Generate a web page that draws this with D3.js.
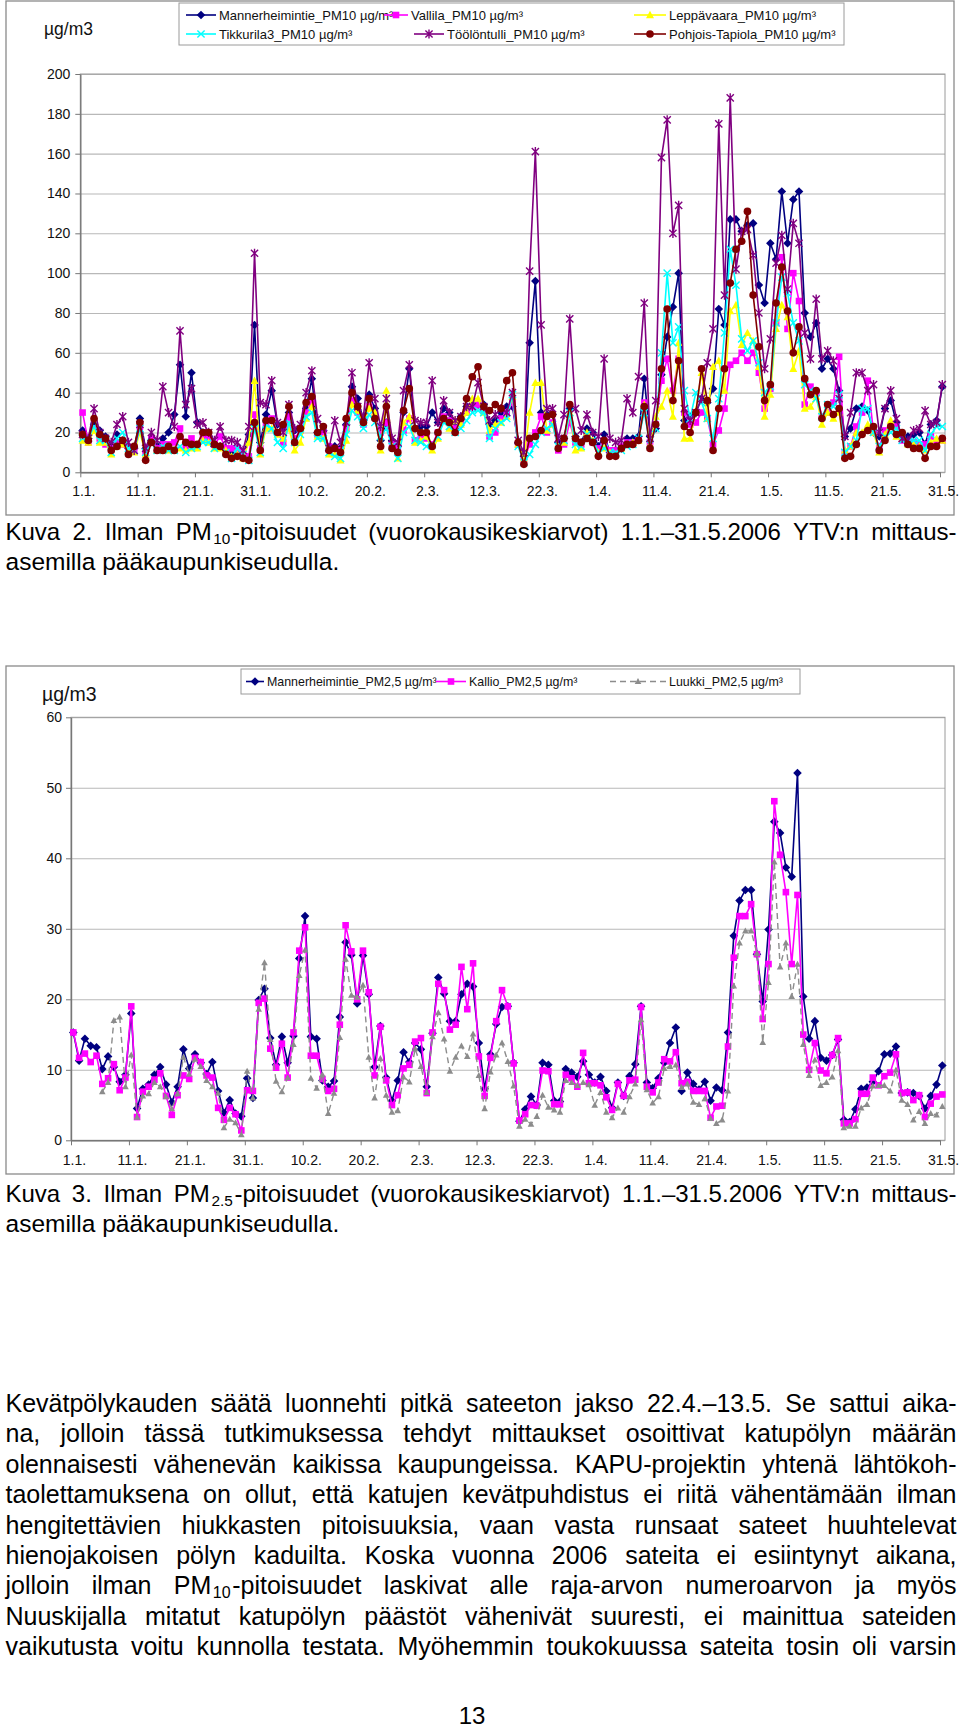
<!DOCTYPE html>
<html><head><meta charset="utf-8">
<script src="https://cdn.jsdelivr.net/npm/d3@7"></script>
<style>
body{margin:0;background:#fff;width:960px;height:1733px;position:relative;overflow:hidden;font-family:"Liberation Sans",Arial,Helvetica,sans-serif;color:#000}
svg{position:absolute;left:0;top:0}
</style></head><body>
<svg id="chart" width="960" height="1733"></svg>
<script>
// ---------------- DATA ----------------
const days = d3.range(151); // 1.1. ... 31.5.2006, day index
const tickDays = [0,10,20,30,40,50,60,70,80,90,100,110,120,130,140,150];
const tickLabels = ["1.1.","11.1.","21.1.","31.1.","10.2.","20.2.","2.3.","12.3.","22.3.","1.4.","11.4.","21.4.","1.5.","11.5.","21.5.","31.5."];
const pm10Ticks = [0,20,40,60,80,100,120,140,160,180,200];
const pm25Ticks = [0,10,20,30,40,50,60];

const pm10Names = ["Mannerheimintie_PM10 µg/m³","Vallila_PM10 µg/m³","Leppävaara_PM10 µg/m³","Tikkurila3_PM10 µg/m³","Töölöntulli_PM10 µg/m³","Pohjois-Tapiola_PM10 µg/m³"];
const pm25Names = ["Mannerheimintie_PM2,5 µg/m³","Kallio_PM2,5 µg/m³","Luukki_PM2,5 µg/m³"];

const mannerPM10 = [
21,17,24,21,18,13,19,16,12,12,
27,12,16,13,17,20,29,54,28,50,
25,20,18,13,13,12,10,12,8,19,
74,15,29,41,24,22,30,21,22,32,
47,20,21,11,13,12,24,43,37,26,
39,32,16,25,16,13,30,52,22,23,
23,30,25,32,30,22,28,33,34,34,
34,24,26,30,33,33,15,8,65,96,
30,29,29,15,17,32,18,15,22,20,
13,19,10,11,12,17,17,18,47,18,
22,49,68,83,100,26,28,30,37,35,
42,82,74,127,127,121,124,125,94,85,
115,107,141,115,137,141,80,68,75,52,
57,52,41,18,22,32,33,31,20,18,
32,36,25,17,18,19,20,14,24,26,43];
const vallilaPM10 = [
30,15,22,17,14,12,15,14,10,11,
23,10,17,12,14,14,15,22,13,17,
14,18,18,14,18,12,12,12,10,8,
29,12,25,27,20,15,28,17,21,30,
35,19,20,13,12,11,22,36,30,24,
33,28,20,25,14,12,21,27,16,17,
17,14,20,28,26,22,26,30,33,34,
31,18,20,27,30,35,14,6,14,20,
28,20,25,11,14,25,15,14,18,15,
12,16,11,11,13,15,15,16,35,15,
24,46,57,41,57,30,24,25,30,27,
14,21,32,54,56,60,56,60,50,32,
42,75,108,72,100,86,34,43,40,28,
30,35,58,10,13,23,30,46,20,13,
21,23,23,16,15,15,14,14,18,15,16];
const leppavaaraPM10 = [
16,15,21,15,15,9,13,14,11,10,
20,9,15,11,12,11,11,12,11,12,
12,16,15,12,12,11,8,9,7,15,
46,9,22,22,19,17,22,11,15,27,
33,18,17,9,9,6,16,34,31,25,
32,30,11,41,13,7,25,28,15,16,
18,11,17,27,22,26,24,30,37,37,
30,21,24,25,28,38,14,7,30,45,
45,21,24,13,15,30,11,12,20,16,
10,12,10,9,12,14,15,16,34,14,
28,33,41,28,65,17,17,31,50,27,
53,56,41,81,84,64,70,66,53,28,
39,72,84,78,52,61,32,33,38,24,
30,27,30,11,13,20,20,24,20,10,
19,26,18,17,14,14,13,11,15,17,16];
const tikkurilaPM10 = [
17,17,23,16,16,10,17,20,12,11,
22,10,15,11,13,11,11,13,10,12,
13,15,15,12,13,10,7,12,9,6,
22,10,24,22,15,12,25,15,19,28,
30,17,17,10,8,7,19,31,28,22,
29,25,18,22,13,7,20,23,16,15,
13,14,18,25,23,20,22,26,30,31,
30,17,22,25,27,39,13,5,9,14,
20,22,24,13,16,30,14,13,19,16,
10,12,10,10,11,13,14,17,30,14,
22,60,100,65,73,41,27,40,35,27,
17,37,70,112,94,67,61,66,55,40,
43,75,98,90,75,66,44,41,37,28,
34,33,39,10,13,16,32,32,20,13,
18,20,22,16,15,16,16,11,19,23,23];
const toolontulliPM10 = [
19,17,32,20,17,15,24,28,15,11,
24,12,20,16,43,30,23,71,34,42,
24,25,20,16,23,16,16,15,11,23,
110,35,34,46,25,20,34,22,24,40,
51,27,22,12,26,15,25,50,33,28,
55,37,23,37,17,15,41,54,26,25,
25,46,25,36,30,26,28,33,33,45,
33,26,29,32,30,40,16,10,101,161,
74,32,32,17,29,77,32,21,29,20,
18,57,17,15,16,37,30,48,85,17,
36,158,177,120,134,32,26,30,37,55,
72,175,89,188,102,121,122,109,80,52,
67,105,119,92,125,115,70,57,87,57,
61,56,37,18,30,50,50,41,44,20,
32,41,27,17,16,21,22,31,24,25,44];
const tapiolaPM10 = [
19,16,27,19,17,11,13,16,9,13,
25,6,15,11,11,13,11,18,15,14,
14,20,20,14,13,9,7,8,7,6,
25,11,26,26,20,24,33,15,22,35,
38,20,23,11,12,10,27,40,33,25,
37,27,13,33,12,10,31,42,22,20,
20,13,20,27,25,20,27,37,48,53,
33,31,34,32,46,50,15,4,17,18,
21,28,29,12,17,34,17,15,17,15,
8,16,8,8,12,14,14,16,33,12,
24,52,82,36,56,23,20,30,52,36,
11,32,52,95,112,116,131,89,63,36,
44,85,103,81,60,73,47,39,41,27,
34,29,32,7,8,14,19,21,23,11,
16,23,19,20,14,12,12,7,13,13,17];

const mannerPM25 = [
15.3,11.3,14.4,13.4,13.2,10.1,11.9,10.4,8.3,9.3,
18.0,4.5,7.3,7.9,9.3,10.4,7.9,5.4,7.6,12.9,
10.2,12.2,11.0,9.4,11.1,7.0,3.9,5.7,3.8,3.4,
8.8,6.0,19.9,21.5,14.5,10.7,14.7,11.0,14.8,25.8,
31.8,14.7,14.4,8.5,7.6,8.4,17.5,28.1,26.3,19.4,
26.2,20.7,10.4,16.2,8.9,5.6,8.5,12.5,11.1,13.8,
12.9,7.6,15.2,23.1,20.8,16.9,16.9,20.7,22.2,21.8,
13.8,7.3,12.2,16.5,18.9,19.0,11.0,2.7,4.4,6.2,
5.0,11.0,10.7,5.6,5.5,10.1,9.6,9.0,11.2,9.3,
8.2,9.0,7.0,4.6,8.2,6.3,9.1,10.8,19.0,8.2,
7.4,8.8,11.0,13.8,16.0,7.0,9.6,8.0,7.2,8.3,
5.6,7.5,7.1,15.3,29.0,34.0,35.5,35.5,26.4,19.7,
29.9,45.2,43.6,38.7,37.4,52.1,20.4,14.4,16.9,11.7,
11.3,12.1,14.3,2.9,2.6,4.4,7.3,7.5,8.3,9.8,
12.2,12.3,13.3,6.7,6.8,6.7,6.3,4.5,6.3,7.9,10.6];
const kallioPM25 = [
15.3,11.7,12.3,11.1,12.0,8.0,8.8,10.8,7.1,8.9,
19.0,3.3,6.9,7.6,8.6,9.5,6.3,3.6,6.4,9.2,
8.7,11.7,11.1,9.2,8.9,4.6,2.9,4.6,3.7,1.4,
7.1,7.0,19.5,20.1,13.0,10.3,13.7,8.9,15.3,26.9,
30.2,12.0,12.0,8.7,7.0,7.3,16.4,30.5,26.8,20.0,
26.9,21.0,9.2,16.1,8.5,5.0,6.4,10.2,10.7,14.0,
14.5,6.7,15.3,22.2,21.3,15.7,16.4,24.6,18.6,25.1,
11.9,6.3,11.7,16.9,21.3,19.0,10.9,2.8,3.7,5.0,
4.9,9.9,9.8,5.1,5.1,9.3,8.8,7.6,12.4,8.1,
8.1,7.8,6.1,4.3,8.0,6.3,8.5,8.6,18.9,7.6,
6.8,8.2,11.5,11.2,12.5,8.1,8.3,7.0,7.0,7.0,
3.2,4.8,4.9,13.3,25.9,31.8,31.8,33.5,26.4,17.2,
25.0,48.1,40.5,35.2,25.0,34.8,15.0,10.0,13.8,9.9,
9.5,12.1,14.5,2.4,2.4,3.0,6.6,6.6,8.9,7.8,
9.1,9.6,12.2,6.7,6.8,5.7,6.4,3.3,5.2,6.2,6.5];
const luukkiPM25 = [
null,null,null,null,null,6.9,8.2,17.0,17.5,7.6,
12.1,3.3,6.3,6.6,8.2,7.6,6.2,4.5,6.6,11.8,
9.4,11.5,10.5,8.5,7.6,6.7,1.8,3.0,2.5,0.8,
9.8,6.0,18.6,25.2,14.3,8.4,6.9,8.9,13.6,23.4,
27.0,8.8,7.4,9.3,3.8,6.7,14.6,25.7,20.6,20.3,
22.0,11.8,6.0,11.6,6.4,4.0,4.2,9.0,8.3,13.0,
10.5,6.8,14.7,18.1,14.4,9.8,11.8,13.4,11.9,15.1,
9.2,4.5,9.7,12.1,13.8,11.2,7.7,2.0,3.0,2.3,
3.4,6.4,4.7,4.3,4.0,8.5,8.2,7.8,8.2,7.9,
5.0,6.8,4.0,3.2,4.6,4.0,6.2,8.0,17.1,7.2,
5.3,6.2,10.2,10.5,10.7,7.5,8.0,5.4,5.1,5.9,
3.1,2.4,2.9,7.0,21.9,28.0,29.7,29.7,26.5,13.9,
22.4,39.5,24.6,28.0,20.4,25.0,13.6,9.2,11.4,7.8,
8.2,9.0,12.7,1.8,2.0,2.0,4.6,5.1,7.7,7.8,
7.8,7.0,10.0,5.7,5.1,2.9,4.1,2.4,3.8,3.6,4.8];

// ---------------- DRAWING ----------------
const FONT = '"Liberation Sans", Arial, Helvetica, sans-serif';
const SHIFT = 0.4; // points sit slightly right of the date ticks
const svg = d3.select('#chart').attr('font-family', FONT);

const shapes = {
  diamond: 'M0,-4.3L4.3,0L0,4.3L-4.3,0Z',
  square: 'M-3.3,-3.3H3.3V3.3H-3.3Z',
  triangle: 'M0,-4.2L4,3.2L-4,3.2Z',
  smalltri: 'M0,-3.4L3.3,2.6L-3.3,2.6Z',
  circle: d3.symbol(d3.symbolCircle, 46)(),
  x: 'M-3.6,-3.6L3.6,3.6M-3.6,3.6L3.6,-3.6',
  star: 'M-3.6,-3.6L3.6,3.6M-3.6,3.6L3.6,-3.6M0,-4.6V4.6'
};
const strokeOnly = s => s === 'x' || s === 'star';

function drawMarker(g, shape, color, tx, ty) {
  const p = g.append('path').attr('d', shapes[shape]).attr('transform', `translate(${tx},${ty})`);
  if (strokeOnly(shape)) p.attr('fill', 'none').attr('stroke', color).attr('stroke-width', 1.4);
  else p.attr('fill', color).attr('stroke', 'none');
}

function chart(o) {
  const g = svg.append('g');
  g.append('rect').attr('x', o.frame[0]).attr('y', o.frame[1]).attr('width', o.frame[2] - o.frame[0]).attr('height', o.frame[3] - o.frame[1])
    .attr('fill', 'none').attr('stroke', '#8a8a8a').attr('stroke-width', 1.3);

  const x = d3.scaleLinear().domain([0, 150]).range(o.xr);
  const y = d3.scaleLinear().domain([0, o.ymax]).range([o.b, o.t]);

  g.append('g').attr('transform', `translate(${o.l},0)`)
    .call(d3.axisLeft(y).tickValues(o.yticks).tickSize(-(o.r - o.l)).tickFormat(''))
    .call(s => s.select('.domain').remove())
    .call(s => s.selectAll('line').attr('stroke', '#b8b8b8').attr('stroke-width', 1.1));
  g.append('rect').attr('x', o.l).attr('y', o.t).attr('width', o.r - o.l).attr('height', o.b - o.t)
    .attr('fill', 'none').attr('stroke', '#9a9a9a').attr('stroke-width', 1);

  const ya = g.append('g').attr('transform', `translate(${o.l},0)`)
    .call(d3.axisLeft(y).tickValues(o.yticks).tickSize(5).tickSizeOuter(0).tickPadding(o.ypad));
  ya.select('.domain').attr('stroke', '#777').attr('stroke-width', 1.4);
  ya.selectAll('line').attr('stroke', '#777');
  ya.selectAll('text').attr('font-size', 14).attr('font-family', FONT).attr('fill', '#111');

  const xa = g.append('g').attr('transform', `translate(0,${o.b})`)
    .call(d3.axisBottom(x).tickValues(tickDays).tickFormat((d, i) => tickLabels[i]).tickSize(5).tickSizeOuter(0).tickPadding(o.xpad));
  xa.select('.domain').attr('stroke', '#777').attr('stroke-width', 1.4);
  xa.selectAll('line').attr('stroke', '#777');
  xa.selectAll('text').attr('font-size', 14).attr('font-family', FONT).attr('fill', '#111').attr('dx', 3);

  g.append('text').attr('x', o.unit[0]).attr('y', o.unit[1]).attr('font-size', o.unit[2]).attr('fill', '#111').text('µg/m3');

  o.series.forEach(s => {
    const line = d3.line().defined(v => v != null).x((v, i) => x(days[i] + SHIFT)).y(v => y(v));
    g.append('path').datum(s.values).attr('d', line).attr('fill', 'none')
      .attr('stroke', s.color).attr('stroke-width', s.width || 1.6)
      .attr('stroke-dasharray', s.dash || null).attr('stroke-linejoin', 'round');
    const pts = s.values.map((v, i) => [days[i], v]).filter(d => d[1] != null);
    const mg = g.append('g');
    pts.forEach(d => drawMarker(mg, s.shape, s.mcolor || s.color, x(d[0] + SHIFT), y(d[1])));
  });

  const lg = g.append('g');
  lg.append('rect').attr('x', o.legend.box[0]).attr('y', o.legend.box[1])
    .attr('width', o.legend.box[2] - o.legend.box[0]).attr('height', o.legend.box[3] - o.legend.box[1])
    .attr('fill', '#fff').attr('stroke', '#9a9a9a').attr('stroke-width', 1);
  o.series.forEach((s, i) => {
    const p = o.legend.pos[i];
    lg.append('line').attr('x1', p[0]).attr('x2', p[0] + p[2]).attr('y1', p[1]).attr('y2', p[1])
      .attr('stroke', s.color).attr('stroke-width', s.width || 1.6).attr('stroke-dasharray', s.dash || null);
    drawMarker(lg, s.shape, s.mcolor || s.color, p[0] + p[2] / 2, p[1]);
    lg.append('text').attr('x', p[0] + p[2] + 3).attr('y', p[1] + o.legend.fs * 0.36)
      .attr('font-size', o.legend.fs).attr('fill', '#111').text(s.name);
  });
}

chart({
  frame: [6, 1, 954, 515],
  l: 80.3, t: 74, r: 945, b: 472.3,
  xr: [80.3, 940], ymax: 200, yticks: pm10Ticks, ypad: 5, xpad: 9,
  unit: [44, 35, 17.5],
  series: [
    {name: pm10Names[0], values: mannerPM10, color: '#000080', shape: 'diamond'},
    {name: pm10Names[1], values: vallilaPM10, color: '#ff00ff', shape: 'square'},
    {name: pm10Names[2], values: leppavaaraPM10, color: '#ffff00', shape: 'triangle'},
    {name: pm10Names[3], values: tikkurilaPM10, color: '#00ffff', shape: 'x'},
    {name: pm10Names[4], values: toolontulliPM10, color: '#800080', shape: 'star'},
    {name: pm10Names[5], values: tapiolaPM10, color: '#800000', shape: 'circle'}
  ],
  legend: {box: [179, 3, 844, 45], fs: 13,
    pos: [[186, 15, 30], [384, 15, 24], [634, 15, 32], [186, 34, 30], [414, 34, 30], [634, 34, 32]]}
});

chart({
  frame: [6, 666, 954, 1174],
  l: 71, t: 717.3, r: 945, b: 1140.3,
  xr: [71, 940], ymax: 60, yticks: pm25Ticks, ypad: 4, xpad: 10,
  unit: [42, 701, 19.5],
  series: [
    {name: pm25Names[0], values: mannerPM25, color: '#000080', shape: 'diamond'},
    {name: pm25Names[1], values: kallioPM25, color: '#ff00ff', shape: 'square'},
    {name: pm25Names[2], values: luukkiPM25, color: '#8c8c8c', mcolor: '#8c8c8c', shape: 'smalltri', dash: '6,4', width: 1.4}
  ],
  legend: {box: [241, 669, 800, 694], fs: 12.4,
    pos: [[246, 681.5, 18], [436, 681.5, 30], [610, 681.5, 56]]}
});

svg.append('text').attr('x', 472).attr('y', 1724).attr('text-anchor', 'middle').attr('font-size', 24).attr('fill', '#000').text('13');

// ---------------- TEXT (SVG, justified word by word) ----------------
function textLine(str, baseline, fs, justify) {
  const g = svg.append('g').attr('font-size', fs).attr('fill', '#000');
  const SEG_GAP = 1.6;
  const words = str.split(' ').map(w => {
    const segs = w.split(/(_\{[^}]*\})/).filter(p => p).map(p => {
      const sub = p.startsWith('_{');
      const t = g.append('text')
        .attr('y', sub ? baseline + fs * 0.16 : baseline)
        .attr('font-size', sub ? fs * 0.64 : fs)
        .text(sub ? p.slice(2, -1) : p);
      return {t, w: t.node().getComputedTextLength()};
    });
    return {segs, w: d3.sum(segs, s => s.w) + (segs.length - 1) * SEG_GAP};
  });
  const total = d3.sum(words, w => w.w);
  const gap = (justify && words.length > 1) ? (951 - total) / (words.length - 1) : fs * 0.278;
  let xx = 5.5;
  words.forEach(w => {
    let sx = xx;
    w.segs.forEach(s => { s.t.attr('x', sx); sx += s.w + SEG_GAP; });
    xx += w.w + gap;
  });
}
const capFs = 24, capFs2 = 24.5, parFs = 25;
textLine('Kuva 2. Ilman PM_{10}-pitoisuudet (vuorokausikeskiarvot) 1.1.–31.5.2006 YTV:n mittaus-', 540, capFs, true);
textLine('asemilla pääkaupunkiseudulla.', 570, capFs2, false);
textLine('Kuva 3. Ilman PM_{2.5}-pitoisuudet (vuorokausikeskiarvot) 1.1.–31.5.2006 YTV:n mittaus-', 1202, capFs, true);
textLine('asemilla pääkaupunkiseudulla.', 1232, capFs2, false);

const para = [
  'Kevätpölykauden säätä luonnehti pitkä sateeton jakso 22.4.–13.5. Se sattui aika-',
  'na, jolloin tässä tutkimuksessa tehdyt mittaukset osoittivat katupölyn määrän',
  'olennaisesti vähenevän kaikissa kaupungeissa. KAPU-projektin yhtenä lähtökoh-',
  'taolettamuksena on ollut, että katujen kevätpuhdistus ei riitä vähentämään ilman',
  'hengitettävien hiukkasten pitoisuuksia, vaan vasta runsaat sateet huuhtelevat',
  'hienojakoisen pölyn kaduilta. Koska vuonna 2006 sateita ei esiintynyt aikana,',
  'jolloin ilman PM_{10}-pitoisuudet laskivat alle raja-arvon numeroarvon ja myös',
  'Nuuskijalla mitatut katupölyn päästöt vähenivät suuresti, ei mainittua sateiden',
  'vaikutusta voitu kunnolla testata. Myöhemmin toukokuussa sateita tosin oli varsin'
];
para.forEach((t, i) => textLine(t, 1412 + i * 30.4, parFs, true));
</script>
</body></html>
